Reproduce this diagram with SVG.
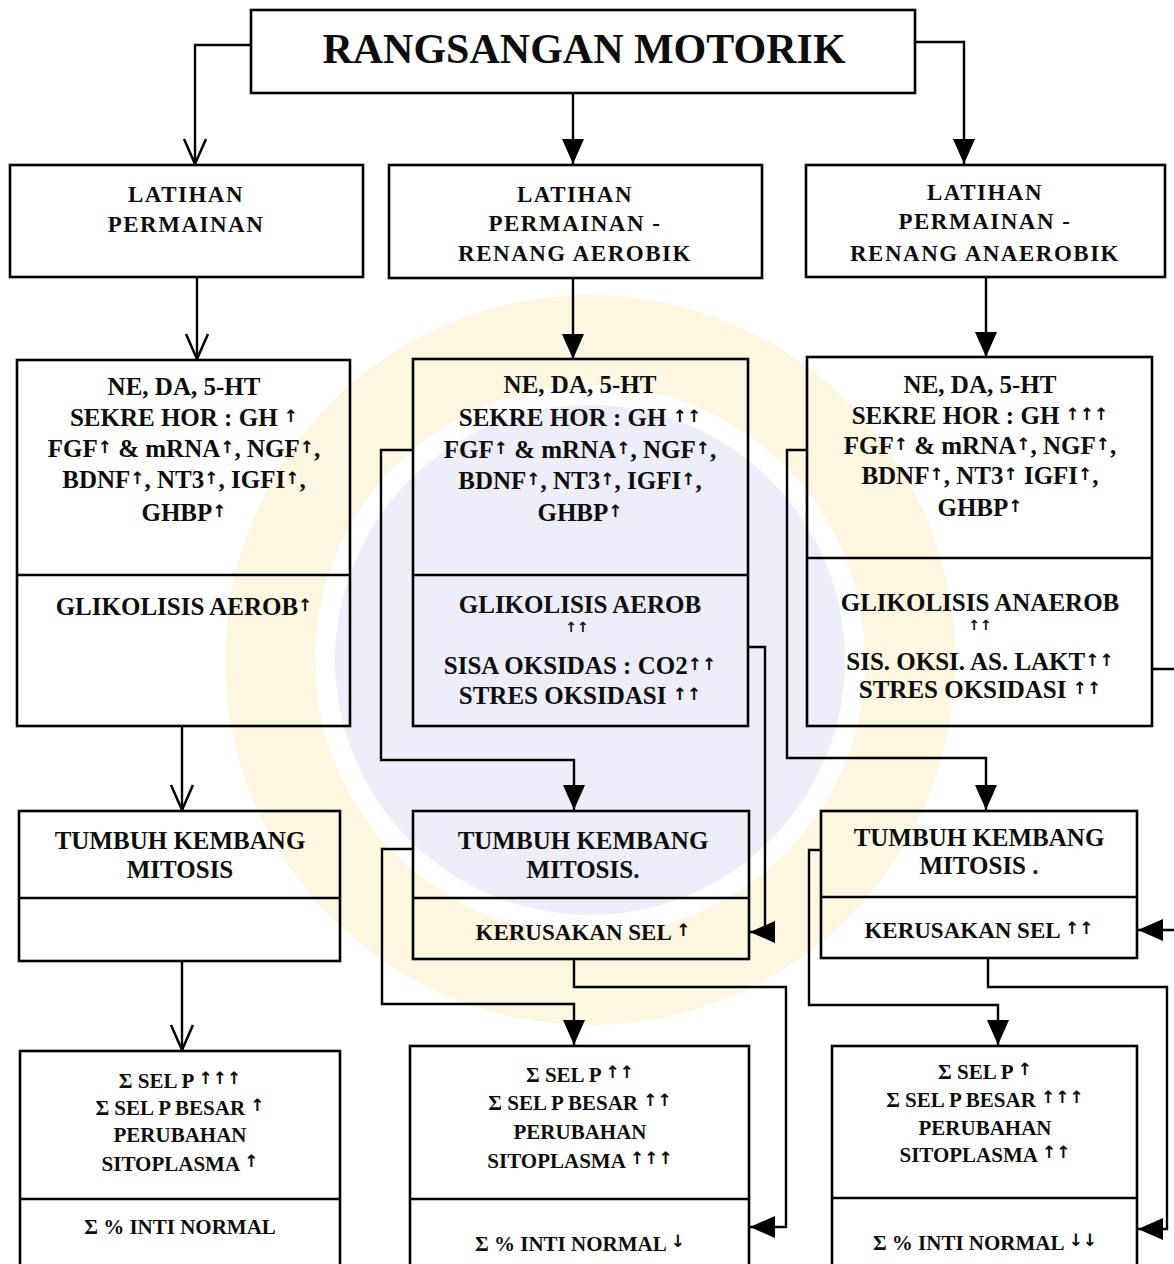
<svg xmlns="http://www.w3.org/2000/svg" width="1174" height="1264" viewBox="0 0 1174 1264">
<style>
.b{fill:none;stroke:#000;stroke-width:2.6}
.c{fill:none;stroke:#000;stroke-width:2.4}
text{font-family:"Liberation Serif","Times New Roman",serif;font-weight:bold;fill:#0d0d0d;text-anchor:middle}
.t1{font-size:42px}
.t2{font-size:23px;letter-spacing:1.5px}
.t3{font-size:25px}
.t4{font-size:23px}
.t5{font-size:21px}
.u{font-size:17px;font-family:"DejaVu Sans",sans-serif;baseline-shift:4px}
.sm{font-size:14px;font-family:"DejaVu Sans",sans-serif}
</style>
<defs>
<marker id="af" viewBox="0 0 25 22" refX="25" refY="11" markerWidth="25" markerHeight="22" markerUnits="userSpaceOnUse" orient="auto"><path d="M0,0 L25,11 L0,22 z" fill="#000"/></marker>
<marker id="ao" viewBox="-2 -2 29 26" refX="25" refY="11" markerWidth="29" markerHeight="26" markerUnits="userSpaceOnUse" orient="auto"><path d="M0,0 L25,11 L0,22" fill="none" stroke="#000" stroke-width="2.5"/></marker>
</defs>
<rect width="1174" height="1264" fill="#fff"/>
<g id="watermark">
<circle cx="590" cy="660" r="320" fill="none" stroke="#fdf7e2" stroke-width="90"/>
<circle cx="590" cy="660" r="255" fill="#eeeefa"/>
</g>
<g id="connectors">
<path class="c" d="M251,45 H195 V164" marker-end="url(#ao)"/>
<path class="c" d="M573,93 V164" marker-end="url(#af)"/>
<path class="c" d="M915,42 H964 V164" marker-end="url(#af)"/>
<path class="c" d="M197,277 V359" marker-end="url(#ao)"/>
<path class="c" d="M573,278 V359" marker-end="url(#af)"/>
<path class="c" d="M986,277 V357" marker-end="url(#af)"/>
<path class="c" d="M182,726 V810" marker-end="url(#ao)"/>
<path class="c" d="M182,961 V1050" marker-end="url(#ao)"/>
<path class="c" d="M413,450 H381 V760 H574 V810" marker-end="url(#af)"/>
<path class="c" d="M748,647 H765 V932 H750" marker-end="url(#af)"/>
<path class="c" d="M413,849 H382 V1004 H574 V1045" marker-end="url(#af)"/>
<path class="c" d="M574,959 V987 H786 V1227 H750" marker-end="url(#af)"/>
<path class="c" d="M807,450 H787 V758 H986 V810" marker-end="url(#af)"/>
<path class="c" d="M1152,669 H1182 V930 H1138" marker-end="url(#af)"/>
<path class="c" d="M821,850 H809 V1005 H998 V1045" marker-end="url(#af)"/>
<path class="c" d="M988,958 V987 H1167 V1229 H1138" marker-end="url(#af)"/>
</g>
<g id="n-title">
<rect class="b" x="251" y="10" width="664" height="83"/>
<text class="t1" x="584" y="63">RANGSANGAN MOTORIK</text>
</g>
<g id="n-a">
<rect class="b" x="10" y="165" width="353" height="112"/>
<text class="t2" x="186" y="202">LATIHAN</text>
<text class="t2" x="186" y="232">PERMAINAN</text>
</g>
<g id="n-b">
<rect class="b" x="389" y="165" width="373" height="113"/>
<text class="t2" x="575" y="202">LATIHAN</text>
<text class="t2" x="575" y="231">PERMAINAN -</text>
<text class="t2" x="575" y="261">RENANG AEROBIK</text>
</g>
<g id="n-c">
<rect class="b" x="806" y="165" width="359" height="112"/>
<text class="t2" x="985" y="200">LATIHAN</text>
<text class="t2" x="985" y="229">PERMAINAN -</text>
<text class="t2" x="985" y="261">RENANG ANAEROBIK</text>
</g>
<g id="n-d">
<rect class="b" x="17" y="360" width="333" height="366"/>
<line class="b" x1="17" y1="575" x2="350" y2="575"/>
<text class="t3" x="184" y="395">NE, DA, 5-HT</text>
<text class="t3" x="184" y="426">SEKRE HOR : GH <tspan class="u">↑</tspan></text>
<text class="t3" x="184" y="457">FGF<tspan class="u">↑</tspan> &amp; mRNA<tspan class="u">↑</tspan>, NGF<tspan class="u">↑</tspan>,</text>
<text class="t3" x="184" y="488">BDNF<tspan class="u">↑</tspan>, NT3<tspan class="u">↑</tspan>, IGFI<tspan class="u">↑</tspan>,</text>
<text class="t3" x="184" y="521">GHBP<tspan class="u">↑</tspan></text>
<text class="t3" x="184" y="615">GLIKOLISIS AEROB<tspan class="u">↑</tspan></text>
</g>
<g id="n-e">
<rect class="b" x="413" y="359" width="335" height="367"/>
<line class="b" x1="413" y1="575" x2="748" y2="575"/>
<text class="t3" x="580" y="393">NE, DA, 5-HT</text>
<text class="t3" x="580" y="426">SEKRE HOR : GH <tspan class="u">↑↑</tspan></text>
<text class="t3" x="580" y="458">FGF<tspan class="u">↑</tspan> &amp; mRNA<tspan class="u">↑</tspan>, NGF<tspan class="u">↑</tspan>,</text>
<text class="t3" x="580" y="489">BDNF<tspan class="u">↑</tspan>, NT3<tspan class="u">↑</tspan>, IGFI<tspan class="u">↑</tspan>,</text>
<text class="t3" x="580" y="521">GHBP<tspan class="u">↑</tspan></text>
<text class="t3" x="580" y="613">GLIKOLISIS AEROB</text>
<text class="sm" x="577" y="632">↑↑</text>
<text class="t3" x="580" y="674">SISA OKSIDAS : CO2<tspan class="u">↑↑</tspan></text>
<text class="t3" x="580" y="704">STRES OKSIDASI <tspan class="u">↑↑</tspan></text>
</g>
<g id="n-f">
<rect class="b" x="807" y="357" width="345" height="369"/>
<line class="b" x1="807" y1="558" x2="1152" y2="558"/>
<text class="t3" x="980" y="393">NE, DA, 5-HT</text>
<text class="t3" x="980" y="424">SEKRE HOR : GH <tspan class="u">↑↑↑</tspan></text>
<text class="t3" x="980" y="454">FGF<tspan class="u">↑</tspan> &amp; mRNA<tspan class="u">↑</tspan>, NGF<tspan class="u">↑</tspan>,</text>
<text class="t3" x="980" y="484">BDNF<tspan class="u">↑</tspan>, NT3<tspan class="u">↑</tspan> IGFI<tspan class="u">↑</tspan>,</text>
<text class="t3" x="980" y="516">GHBP<tspan class="u">↑</tspan></text>
<text class="t3" x="980" y="611">GLIKOLISIS ANAEROB</text>
<text class="sm" x="980" y="630">↑↑</text>
<text class="t3" x="980" y="670">SIS. OKSI. AS. LAKT<tspan class="u">↑↑</tspan></text>
<text class="t3" x="980" y="698">STRES OKSIDASI <tspan class="u">↑↑</tspan></text>
</g>
<g id="n-g">
<rect class="b" x="19" y="811" width="321" height="150"/>
<line class="b" x1="19" y1="898" x2="340" y2="898"/>
<text class="t3" x="180" y="849">TUMBUH KEMBANG</text>
<text class="t3" x="180" y="878">MITOSIS</text>
</g>
<g id="n-h">
<rect class="b" x="413" y="811" width="336" height="148"/>
<line class="b" x1="413" y1="898" x2="749" y2="898"/>
<text class="t3" x="583" y="849">TUMBUH KEMBANG</text>
<text class="t3" x="583" y="878">MITOSIS.</text>
<text class="t4" x="583" y="940">KERUSAKAN SEL <tspan class="u">↑</tspan></text>
</g>
<g id="n-i">
<rect class="b" x="821" y="811" width="316" height="147"/>
<line class="b" x1="821" y1="897" x2="1137" y2="897"/>
<text class="t3" x="979" y="846">TUMBUH KEMBANG</text>
<text class="t3" x="979" y="874">MITOSIS .</text>
<text class="t4" x="979" y="938">KERUSAKAN SEL <tspan class="u">↑↑</tspan></text>
</g>
<g id="n-j">
<rect class="b" x="20" y="1051" width="320" height="240"/>
<line class="b" x1="20" y1="1199" x2="340" y2="1199"/>
<text class="t5" x="180" y="1088">Σ SEL P <tspan class="u">↑↑↑</tspan></text>
<text class="t5" x="180" y="1115">Σ SEL P BESAR <tspan class="u">↑</tspan></text>
<text class="t5" x="180" y="1142">PERUBAHAN</text>
<text class="t5" x="180" y="1171">SITOPLASMA <tspan class="u">↑</tspan></text>
<text class="t5" x="180" y="1234">Σ % INTI NORMAL</text>
</g>
<g id="n-k">
<rect class="b" x="410" y="1046" width="339" height="245"/>
<line class="b" x1="410" y1="1199" x2="749" y2="1199"/>
<text class="t5" x="580" y="1082">Σ SEL P <tspan class="u">↑↑</tspan></text>
<text class="t5" x="580" y="1110">Σ SEL P BESAR <tspan class="u">↑↑</tspan></text>
<text class="t5" x="580" y="1139">PERUBAHAN</text>
<text class="t5" x="580" y="1168">SITOPLASMA <tspan class="u">↑↑↑</tspan></text>
<text class="t5" x="580" y="1251">Σ % INTI NORMAL <tspan class="u">↓</tspan></text>
</g>
<g id="n-l">
<rect class="b" x="832" y="1046" width="305" height="245"/>
<line class="b" x1="832" y1="1198" x2="1137" y2="1198"/>
<text class="t5" x="985" y="1079">Σ SEL P <tspan class="u">↑</tspan></text>
<text class="t5" x="985" y="1107">Σ SEL P BESAR <tspan class="u">↑↑↑</tspan></text>
<text class="t5" x="985" y="1135">PERUBAHAN</text>
<text class="t5" x="985" y="1162">SITOPLASMA <tspan class="u">↑↑</tspan></text>
<text class="t5" x="985" y="1250">Σ % INTI NORMAL <tspan class="u">↓↓</tspan></text>
</g>
</svg>
